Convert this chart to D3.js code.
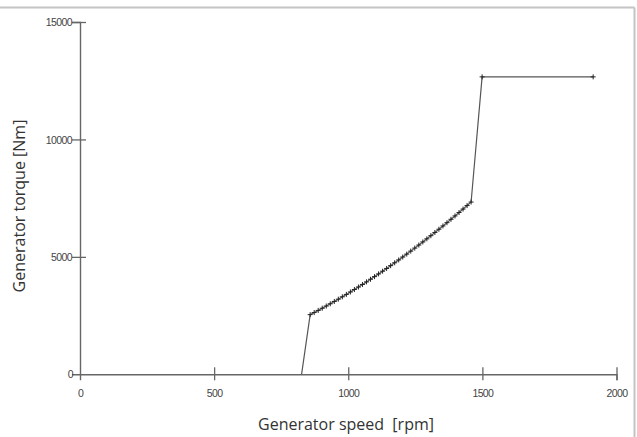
<!DOCTYPE html>
<html><head><meta charset="utf-8">
<script src="https://cdn.jsdelivr.net/npm/d3@7"></script>
<style>
body{margin:0;background:#fff;}
svg{display:block;}
.tick text{font-family:"Liberation Sans",Arial,sans-serif;font-size:10.5px;fill:#444;letter-spacing:-0.6px;}
.title{white-space:pre;}
</style></head><body>
<svg id="chart" width="637" height="437"></svg>
<script>
// Data
const speedRpm = [826, 858, 873, 888, 903, 918, 933, 948, 963, 978, 993, 1008, 1023, 1038, 1053, 1068, 1083, 1098, 1113, 1128, 1143, 1158, 1173, 1188, 1203, 1218, 1233, 1248, 1263, 1278, 1293, 1308, 1323, 1338, 1353, 1368, 1383, 1398, 1413, 1428, 1443, 1458, 1499, 1913];
const torqueNm = [0, 2540, 2629, 2720, 2813, 2907, 3003, 3101, 3199, 3300, 3402, 3505, 3611, 3717, 3825, 3935, 4047, 4159, 4274, 4390, 4507, 4626, 4747, 4869, 4993, 5118, 5245, 5373, 5503, 5635, 5768, 5902, 6039, 6176, 6316, 6456, 6599, 6743, 6888, 7035, 7184, 7334, 12664, 12664];
const xTicks = [0, 500, 1000, 1500, 2000];
const yTicks = [0, 5000, 10000, 15000];
const xTitle = "Generator speed  [rpm]";
const yTitle = "Generator torque [Nm]";

const svg = d3.select("#chart");
const x = d3.scaleLinear().domain([0, 2000]).range([80, 616.5]);
const y = d3.scaleLinear().domain([0, 15000]).range([374.3, 22]);

// frame (top and right edges)
svg.append("line").attr("x1",0).attr("x2",634.5).attr("y1",7.5).attr("y2",7.5).attr("stroke","#c4c4c4").attr("stroke-width",2);
svg.append("line").attr("x1",634.5).attr("x2",634.5).attr("y1",7.5).attr("y2",437).attr("stroke","#c4c4c4").attr("stroke-width",2);

const axisColor = "#666";
const xAxis = svg.append("g").attr("transform","translate(0,374.3)")
  .call(d3.axisBottom(x).tickValues(xTicks).tickSize(6).tickPadding(9).tickFormat(d3.format("d")));
xAxis.select(".domain").attr("stroke",axisColor).attr("stroke-width",1.4);
xAxis.selectAll(".tick line").attr("stroke",axisColor).attr("stroke-width",1.3).attr("y1",-7).attr("y2",6)
  .filter(d=>d===0).remove();

const yAxis = svg.append("g").attr("transform","translate(80,0)")
  .call(d3.axisLeft(y).tickValues(yTicks).tickSize(8).tickPadding(0).tickFormat(d3.format("d")));
yAxis.select(".domain").attr("stroke",axisColor).attr("stroke-width",1.4);
yAxis.selectAll(".tick line").attr("stroke",axisColor).attr("stroke-width",1.3).attr("x1",6).attr("x2",-8)
  .filter(d=>d===0).remove();
yAxis.selectAll(".tick").filter(d=>d===0).select("text").attr("x",-7);
yAxis.selectAll(".tick text").attr("dy","0.35em");

// line
const pts = speedRpm.map((s,i)=>[s, torqueNm[i]]);
svg.append("path").datum(pts)
  .attr("fill","none").attr("stroke","#555").attr("stroke-width",1.2)
  .attr("d", d3.line().x(d=>x(d[0])).y(d=>y(d[1])));

// markers (+)
const m = svg.append("g").attr("stroke","#222").attr("stroke-width",1);
pts.slice(1).forEach(d=>{
  const cx = x(d[0]), cy = y(d[1]);
  m.append("line").attr("x1",cx-2.5).attr("x2",cx+2.5).attr("y1",cy).attr("y2",cy);
  m.append("line").attr("x1",cx).attr("x2",cx).attr("y1",cy-2.5).attr("y2",cy+2.5);
});

// titles
svg.append("text").attr("class","title").attr("x",346).attr("y",430).attr("text-anchor","middle")
  .attr("font-family","'Open Sans',sans-serif").attr("font-size",16).attr("fill","#333").text(xTitle);
svg.append("text").attr("class","title").attr("transform","translate(25,206) rotate(-90)").attr("text-anchor","middle")
  .attr("font-family","'Open Sans',sans-serif").attr("font-size",16).attr("fill","#333").text(yTitle);
</script>
</body></html>
